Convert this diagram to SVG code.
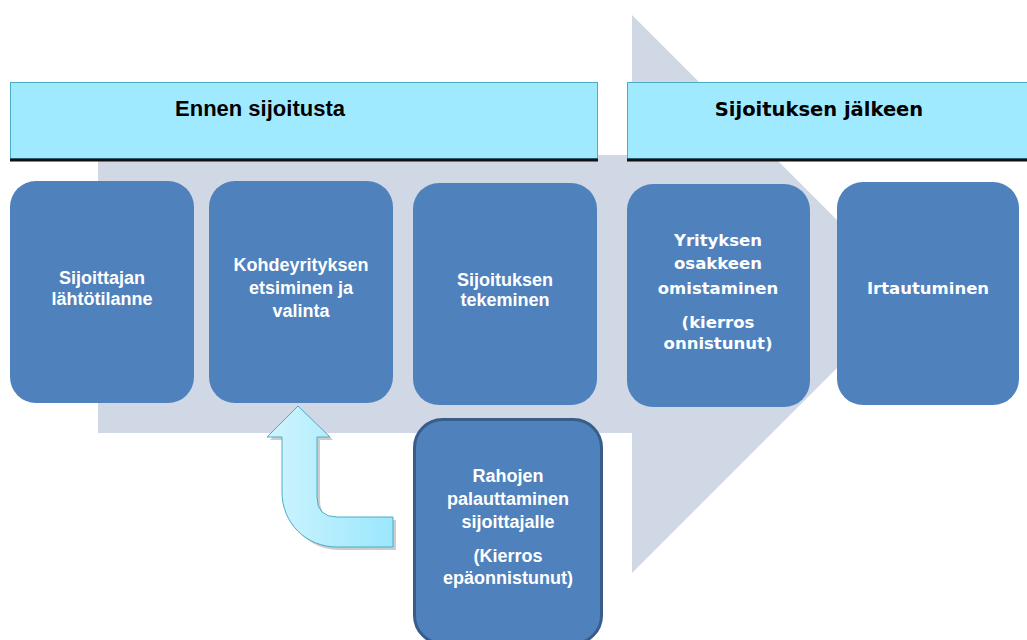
<svg xmlns="http://www.w3.org/2000/svg" width="1027" height="640" viewBox="0 0 1027 640">
<defs>
<style>
.hdr{fill:#A0EAFF;stroke:#4BACC6;stroke-width:1}
.hline{stroke:#111;stroke-width:3}
.htxt{font-family:"Liberation Sans",Arial,sans-serif;font-weight:bold;font-size:22px;fill:#000;text-anchor:middle}
.box{fill:#4F81BD}
.btxt{font-family:"Liberation Sans",Arial,sans-serif;font-weight:bold;font-size:18px;fill:#fff;text-anchor:middle}
.vtxt{font-family:"DejaVu Sans",Verdana,sans-serif;font-weight:bold;font-size:16.5px;fill:#fff;text-anchor:middle}
</style>
<linearGradient id="ug" x1="0" y1="0" x2="1" y2="0">
<stop offset="0" stop-color="#CFF4FD"/>
<stop offset="1" stop-color="#9BE7FD"/>
</linearGradient>
</defs>
<rect width="1027" height="640" fill="#fff"/>
<g id="bigArrow">
<polygon points="98,155 632,155 632,15 911,294 632,573 632,433 98,433" fill="#D0D8E6"/>
</g>
<g id="header-before">
<rect class="hdr" x="10.5" y="82.5" width="587" height="76"/>
<line class="hline" x1="10" y1="160" x2="598" y2="160"/>
<text class="htxt" x="260" y="116">Ennen sijoitusta</text>
</g>
<g id="header-after">
<rect class="hdr" x="627.5" y="82.5" width="410" height="76"/>
<line class="hline" x1="627" y1="160" x2="1027" y2="160"/>
<text class="htxt" x="819" y="116" style="font-family:'DejaVu Sans',Verdana,sans-serif;font-size:19.5px">Sijoituksen jälkeen</text>
</g>
<g id="connectors">
<path d="M298,406 L330,437 L317,437 L317,497 Q317,517 337,517 L393,517 L393,547 L337,547 C306,547 282,523 282,492 L282,437 L267,437 Z" fill="#999" opacity="0.5" transform="translate(3,3)"/>
<path d="M298,406 L330,437 L317,437 L317,497 Q317,517 337,517 L393,517 L393,547 L337,547 C306,547 282,523 282,492 L282,437 L267,437 Z" fill="url(#ug)" stroke="#4BACC6" stroke-width="1"/>
</g>
<g id="node1">
<rect class="box" x="10" y="181" width="184" height="222" rx="26"/>
<text class="btxt" x="102" y="284">Sijoittajan</text>
<text class="btxt" x="102" y="305">lähtötilanne</text>
</g>
<g id="node2">
<rect class="box" x="209" y="181" width="184" height="222" rx="26"/>
<text class="btxt" x="301" y="271">Kohdeyrityksen</text>
<text class="btxt" x="301" y="294">etsiminen ja</text>
<text class="btxt" x="301" y="317">valinta</text>
</g>
<g id="node3">
<rect class="box" x="413" y="183" width="184" height="222" rx="26"/>
<text class="btxt" x="505" y="286">Sijoituksen</text>
<text class="btxt" x="505" y="306">tekeminen</text>
</g>
<g id="node4">
<rect class="box" x="627" y="184" width="183" height="223" rx="26"/>
<text class="vtxt" x="718" y="246">Yrityksen</text>
<text class="vtxt" x="718" y="269">osakkeen</text>
<text class="vtxt" x="718" y="294">omistaminen</text>
<text class="vtxt" x="718" y="328">(kierros</text>
<text class="vtxt" x="718" y="349">onnistunut)</text>
</g>
<g id="node5">
<rect class="box" x="837" y="182" width="182" height="223" rx="26"/>
<text class="vtxt" x="928" y="294">Irtautuminen</text>
</g>
<g id="node6">
<rect x="414.5" y="419.5" width="187" height="224" rx="28" fill="#4F81BD" stroke="#385D8A" stroke-width="3"/>
<text class="btxt" x="508" y="482">Rahojen</text>
<text class="btxt" x="508" y="505">palauttaminen</text>
<text class="btxt" x="508" y="528">sijoittajalle</text>
<text class="btxt" x="508" y="562">(Kierros</text>
<text class="btxt" x="508" y="584">epäonnistunut)</text>
</g>
</svg>
